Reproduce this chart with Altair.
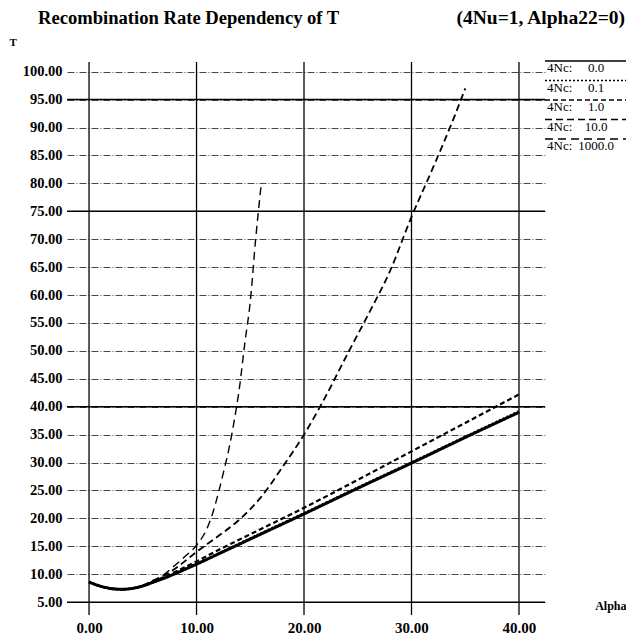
import altair as alt
import pandas as pd

# ---------------- data ----------------
names = ["0.0", "0.1", "1.0", "10.0", "1000.0"]

a_00 = [0, 1, 2, 3, 4, 5, 6, 7, 8, 10, 12, 16, 20, 25, 30, 35, 40]
t_00 = [8.6, 7.9, 7.45, 7.3, 7.45, 7.9, 8.6, 9.3, 10.1, 11.8, 13.6, 17.2, 20.8, 25.4, 29.9, 34.5, 39.0]

a_01 = [0, 1, 2, 3, 4, 5, 6, 7, 8, 10, 12, 16, 20, 25, 30, 35, 40]
t_01 = [8.6, 7.9, 7.45, 7.3, 7.45, 7.9, 8.6, 9.35, 10.15, 11.85, 13.65, 17.3, 20.9, 25.5, 30.0, 34.6, 39.15]

a_1 = [0, 1, 2, 3, 4, 5, 6, 7, 8, 10, 12, 16, 20, 25, 30, 35, 40]
t_1 = [8.6, 7.9, 7.45, 7.3, 7.45, 7.9, 8.7, 9.5, 10.4, 12.3, 14.3, 18.1, 21.9, 26.9, 32.0, 37.1, 42.2]

a_10 = [0, 1, 2, 3, 4, 5, 6, 7, 8, 10, 12, 14, 16, 18, 20, 22, 24, 26, 28, 30, 32, 34, 35]
t_10 = [8.6, 7.9, 7.45, 7.3, 7.5, 8.0, 8.9, 9.8, 11.0, 14.0, 16.8, 19.8, 23.8, 29.2, 35.0, 41.8,
        49.3, 56.6, 64.3, 74.0, 82.8, 92.0, 97.0]

a_1000 = [0, 1, 2, 3, 4, 5, 6, 7, 8, 9, 10, 11, 11.5, 12, 12.5, 13, 13.5, 14, 14.5, 15, 15.5, 16]
t_1000 = [8.6, 7.9, 7.45, 7.3, 7.5, 8.0, 8.9, 10.0, 11.6, 13.3, 15.2, 18.3, 20.9, 24.3, 28.2,
          32.3, 37.4, 43.5, 51.5, 58.8, 70.0, 79.5]

x_ticks = [0, 10, 20, 30, 40]
y_ticks = [5, 10, 15, 20, 25, 30, 35, 40, 45, 50, 55, 60, 65, 70, 75, 80, 85, 90, 95, 100]
y_major = [5, 40, 75, 95]

title_left = "Recombination Rate Dependency of T"
title_right = "(4Nu=1, Alpha22=0)"

# ---------------- build tables ----------------
series = [(names[0], a_00, t_00), (names[1], a_01, t_01), (names[2], a_1, t_1),
          (names[3], a_10, t_10), (names[4], a_1000, t_1000)]
rows = []
for nm, xs_, ts in series:
    for x, t in zip(xs_, ts):
        rows.append({"name": nm, "alpha": x, "T": t})
curves = pd.DataFrame(rows)
legend_df = pd.DataFrame({"name": names, "label": names})
major_df = pd.DataFrame({"y": y_major})
xgrid_df = pd.DataFrame({"x": x_ticks})

FONT = "Liberation Serif"
W, H = 478, 553
XDOM = [-2.05, 42.42]
YDOM = [2.7, 101.73]

dash_scale = alt.Scale(domain=names, range=[[1, 0], [2, 2], [5, 3], [7, 4], [8, 5]])
width_scale = alt.Scale(domain=names, range=[3, 1.4, 2.2, 2.2, 2.2])

xs = alt.Scale(domain=XDOM, nice=False, zero=False)
ys = alt.Scale(domain=YDOM, nice=False, zero=False)

x_axis = alt.Axis(values=x_ticks, tickCount=50, format=".2f", grid=False, domain=False, ticks=False,
                  labelOverlap=False, labelFlush=False,
                  labelFont=FONT, labelFontSize=15, labelFontWeight="bold",
                  labelColor="black", labelPadding=5,
                  title="Alpha", titleFont=FONT, titleFontSize=12, titleFontWeight="bold",
                  titleAnchor="start", titleAlign="right", titleBaseline="middle",
                  titleX=559, titleY=-10, titleColor="black")
y_axis = alt.Axis(values=y_ticks, tickCount=50, format=".2f", grid=True, gridDash=[7, 2, 1, 2],
                  gridColor="#333", gridWidth=0.9, domain=False, ticks=False,
                  labelOverlap=False, labelFlush=False,
                  labelFont=FONT, labelFontSize=14.5, labelFontWeight="bold",
                  labelColor="black", labelPadding=5,
                  title="T", titleFont=FONT, titleFontSize=11, titleFontWeight="bold",
                  titleAngle=0, titleAlign="left", titleBaseline="middle",
                  titleX=-58, titleY=-20, titleColor="black")

lines = alt.Chart(curves).mark_line(color="black", interpolate="monotone").encode(
    x=alt.X("alpha:Q", scale=xs, axis=x_axis),
    y=alt.Y("T:Q", scale=ys, axis=y_axis),
    strokeDash=alt.StrokeDash("name:N", scale=dash_scale, legend=None),
    strokeWidth=alt.StrokeWidth("name:N", scale=width_scale, legend=None),
    detail="name:N",
)

major = alt.Chart(major_df).mark_rule(color="black", strokeWidth=1.5).encode(
    y=alt.Y("y:Q", scale=ys, axis=y_axis)
)
vgrid = alt.Chart(xgrid_df).mark_rule(color="black", strokeWidth=1.3).encode(
    x=alt.X("x:Q", scale=xs, axis=x_axis)
)

main = alt.layer(major, vgrid, lines)

ly = alt.Y("name:N", scale=alt.Scale(type="point", domain=names, range=[-1, 77], padding=0),
           axis=None, sort=names)
leg_rule = alt.Chart(legend_df).mark_rule(color="black").encode(
    x=alt.value(478), x2=alt.value(560), y=ly,
    strokeDash=alt.StrokeDash("name:N", scale=dash_scale, legend=None),
    strokeWidth=alt.value(1.6),
)
leg_key = alt.Chart(legend_df).mark_text(
    align="left", baseline="middle", dy=7, font=FONT, fontSize=13, color="black"
).encode(x=alt.value(480), y=ly, text=alt.value("4Nc:"))
leg_val = alt.Chart(legend_df).mark_text(
    align="center", baseline="middle", dy=7, font=FONT, fontSize=13, color="black"
).encode(x=alt.value(529), y=ly, text="label:N")

t1 = alt.Chart(pd.DataFrame({"t": [title_left]})).mark_text(
    align="left", baseline="top", font=FONT, fontSize=18.6, fontWeight="bold", color="black"
).encode(x=alt.value(-29), y=alt.value(-53), text="t:N")
t2 = alt.Chart(pd.DataFrame({"t": [title_right]})).mark_text(
    align="right", baseline="top", font=FONT, fontSize=19.5, fontWeight="bold", color="black"
).encode(x=alt.value(558), y=alt.value(-53), text="t:N")

chart = alt.layer(main, leg_rule, leg_key, leg_val, t1, t2).resolve_scale(
    y="independent"
).properties(
    width=W, height=H,
    autosize=alt.AutoSizeParams(type="none"),
    padding={"left": 59, "top": 54, "right": 81, "bottom": 21},
    background="white",
).configure_view(stroke=None)

chart.save("out.html", embed_options={"renderer": "svg", "actions": False})
